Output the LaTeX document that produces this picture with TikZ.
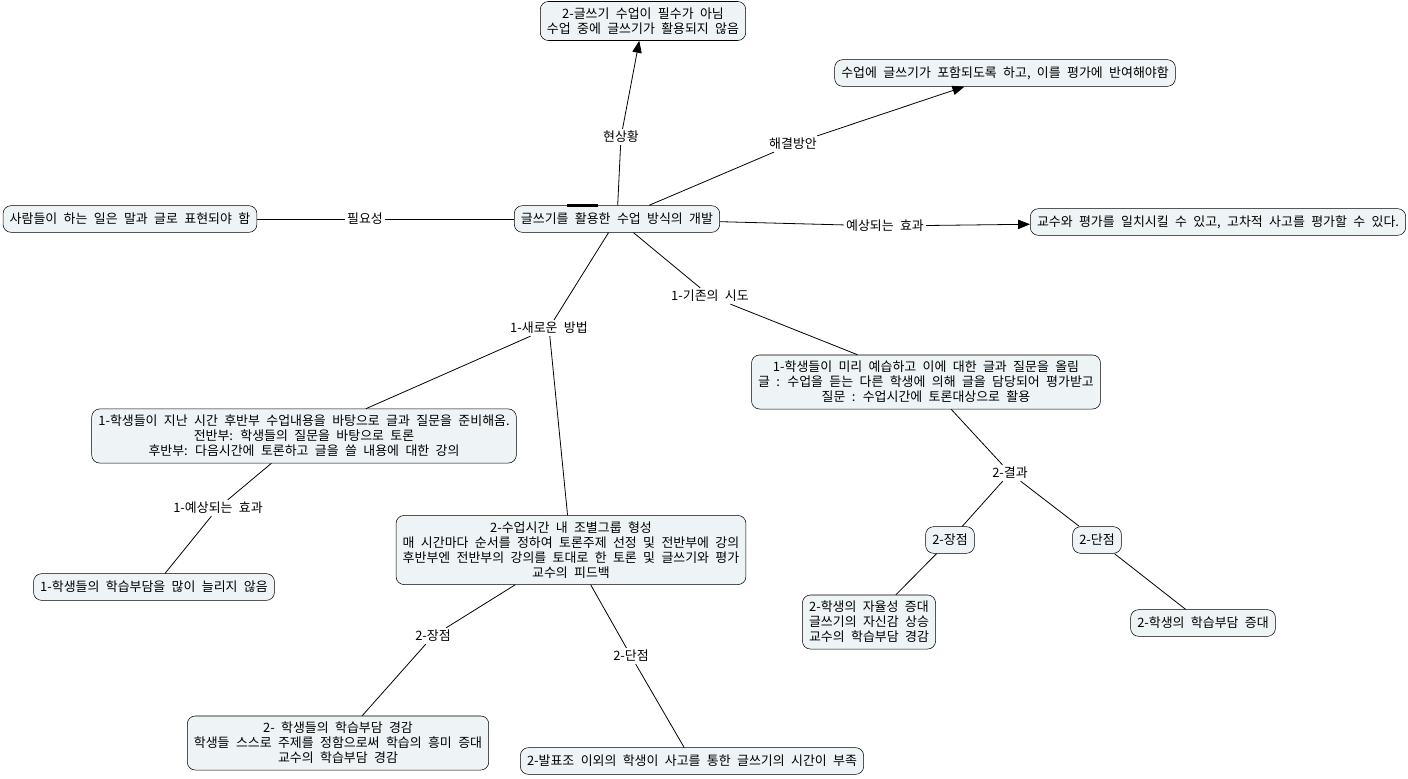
\documentclass[tikz,border=0pt]{standalone}
\usepackage{fontspec}
\setmainfont{Noto Sans CJK KR}[WordSpace=2.2]
\usepackage{tikz}
\usetikzlibrary{arrows.meta,positioning}
\definecolor{cmapfill}{HTML}{EEF3F5}
\tikzstyle{concept} = [rectangle, rounded corners=6pt, draw=black, fill=cmapfill, text centered, align=center, inner xsep=5pt, inner ysep=4.6pt, minimum height=20pt, font=\fontsize{9.7}{11.25}\selectfont]
\tikzstyle{linkword} = [inner sep=1.5pt, font=\fontsize{9.7}{11.25}\selectfont]
\tikzstyle{link} = [line width=0.6pt, black]
\tikzstyle{arrow} = [link, -{Triangle[length=9pt,width=7pt]}]

\begin{document}
\begin{tikzpicture}[x=0.75pt, y=-0.75pt]
\useasboundingbox (0,0) rectangle (1408,778);

\node (dev)  [concept] at (617,219) {글쓰기를 활용한 수업 방식의 개발};
\node (now)  [concept] at (643,21) {2-글쓰기 수업이 필수가 아님\\수업 중에 글쓰기가 활용되지 않음};
\node (fix)  [concept] at (1005,73) {수업에 글쓰기가 포함되도록 하고, 이를 평가에 반여해야함};
\node (need) [concept] at (130,219) {사람들이 하는 일은 말과 글로 표현되야 함};
\node (effect) [concept] at (1218,222) {교수와 평가를 일치시킬 수 있고, 고차적 사고를 평가할 수 있다.};

\node (old)  [concept] at (926,382) {1-학생들이 미리 예습하고 이에 대한 글과 질문을 올림\\글 : 수업을 듣는 다른 학생에 의해 글을 담당되어 평가받고\\질문 : 수업시간에 토론대상으로 활용};
\node (new)  [concept] at (304,436) {1-학생들이 지난 시간 후반부 수업내용을 바탕으로 글과 질문을 준비해옴.\\전반부: 학생들의 질문을 바탕으로 토론\\후반부: 다음시간에 토론하고 글을 쓸 내용에 대한 강의};
\node (new_eff) [concept] at (154,587) {1-학생들의 학습부담을 많이 늘리지 않음};
\node (group) [concept] at (571,550) {2-수업시간 내 조별그룹 형성\\매 시간마다 순서를 정하여 토론주제 선정 및 전반부에 강의\\후반부엔 전반부의 강의를 토대로 한 토론 및 글쓰기와 평가\\교수의 피드백};

\node (old_pro) [concept] at (950,540) {2-장점};
\node (old_con) [concept] at (1097,540) {2-단점};
\node (old_pro_txt) [concept, align=left] at (869,622) {2-학생의 자율성 증대\\글쓰기의 자신감 상승\\교수의 학습부담 경감};
\node (old_con_txt) [concept] at (1203,623) {2-학생의 학습부담 증대};
\node (group_pro) [concept] at (338,743) {2- 학생들의 학습부담 경감\\학생들 스스로 주제를 정함으로써 학습의 흥미 증대\\교수의 학습부담 경감};
\node (group_con) [concept] at (692,761) {2-발표조 이외의 학생이 사고를 통한 글쓰기의 시간이 부족};

% linking words
\node (l_now)    [linkword] at (621,137) {현상황};
\node (l_fix)    [linkword] at (793,144) {해결방안};
\node (l_need)   [linkword] at (365,219) {필요성};
\node (l_effect) [linkword] at (885,226) {예상되는 효과};
\node (l_new)    [linkword] at (549,328) {1-새로운 방법};
\node (l_old)    [linkword] at (710,296) {1-기존의 시도};
\node (l_res)    [linkword] at (1010,473) {2-결과};
\node (l_neweff) [linkword] at (218,508) {1-예상되는 효과};
\node (l_gpro)   [linkword] at (433,636) {2-장점};
\node (l_gcon)   [linkword] at (631,656) {2-단점};

\draw [line width=2.2pt] ([xshift=-37.5pt]dev.north) -- ([xshift=-14pt]dev.north);

\draw [link] (dev) -- (l_now);
\draw [arrow] (l_now) -- (now);
\draw [link] (dev) -- (l_fix);
\draw [arrow] (l_fix) -- (fix);
\draw [link] (need) -- (l_need);
\draw [link] (l_need) -- (dev);
\draw [link] (dev) -- (l_effect);
\draw [arrow] (l_effect) -- (effect);

\draw [link] (dev) -- (l_new);
\draw [link] (l_new) -- (new);
\draw [link] (l_new) -- (group);
\draw [link] (dev) -- (l_old);
\draw [link] (l_old) -- (old);

\draw [link] (new) -- (l_neweff);
\draw [link] (l_neweff) -- (new_eff);

\draw [link] (old) -- (l_res);
\draw [link] (l_res) -- (old_pro);
\draw [link] (l_res) -- (old_con);
\draw [link] (old_pro) -- (old_pro_txt);
\draw [link] (old_con) -- (old_con_txt);

\draw [link] (group) -- (l_gpro);
\draw [link] (l_gpro) -- (group_pro);
\draw [link] (group) -- (l_gcon);
\draw [link] (l_gcon) -- (group_con);

\end{tikzpicture}
\end{document}
